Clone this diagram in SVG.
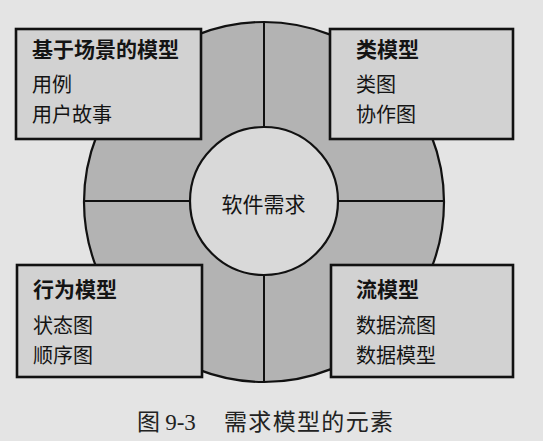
<svg xmlns="http://www.w3.org/2000/svg" width="543" height="441" viewBox="0 0 543 441">
  <style>
    .page { fill: #e4e4e4; }
    .ring { fill: #b3b3b3; stroke: #111; stroke-width: 2.2; }
    .core { fill: #d9d9d9; stroke: #111; stroke-width: 2.2; }
    .divider { stroke: #111; stroke-width: 2; fill: none; }
    .box { fill: #d2d2d2; stroke: #111; stroke-width: 2.6; }
    text { font-family: "Noto Sans CJK SC", "Noto Sans CJK JP", sans-serif; font-size: 20px; fill: #141414; }
    .title { font-weight: 700; font-size: 21px; }
    .item { font-weight: 400; }
    .centre { font-size: 21px; }
    .caption { font-size: 23px; fill: #222; }
    .num { font-family: "Liberation Serif", "Noto Sans CJK SC", serif; }
  </style>

  <rect class="page" x="0" y="0" width="543" height="441"/>

  <!-- outer ring -->
  <circle id="ring" class="ring" cx="264" cy="202" r="180"/>

  <!-- quadrant dividers of the ring -->
  <g id="connectors">
    <line class="divider" x1="264" y1="22" x2="264" y2="382"/>
    <line class="divider" x1="84" y1="201" x2="444" y2="201"/>
  </g>

  <!-- centre node -->
  <g id="node-core">
    <circle class="core" cx="264" cy="201" r="74"/>
    <text class="centre" x="263.5" y="212" text-anchor="middle">软件需求</text>
  </g>

  <!-- four model boxes -->
  <g id="node-scenario">
    <rect class="box" x="16" y="29" width="185" height="110"/>
    <text class="title" x="32" y="57">基于场景的模型</text>
    <text class="item" x="32" y="92">用例</text>
    <text class="item" x="32" y="122">用户故事</text>
  </g>

  <g id="node-class">
    <rect class="box" x="330" y="29" width="183" height="110"/>
    <text class="title" x="356" y="57">类模型</text>
    <text class="item" x="356" y="92">类图</text>
    <text class="item" x="356" y="122">协作图</text>
  </g>

  <g id="node-behavior">
    <rect class="box" x="17" y="265" width="185" height="112"/>
    <text class="title" x="33" y="297">行为模型</text>
    <text class="item" x="33" y="333">状态图</text>
    <text class="item" x="33" y="363">顺序图</text>
  </g>

  <g id="node-flow">
    <rect class="box" x="331" y="265" width="182" height="112"/>
    <text class="title" x="356" y="297">流模型</text>
    <text class="item" x="356" y="333">数据流图</text>
    <text class="item" x="356" y="363">数据模型</text>
  </g>

  <!-- figure caption -->
  <text class="caption" x="137" y="430">图 <tspan class="num">9-3</tspan><tspan x="224" textLength="169">需求模型的元素</tspan></text>
</svg>
